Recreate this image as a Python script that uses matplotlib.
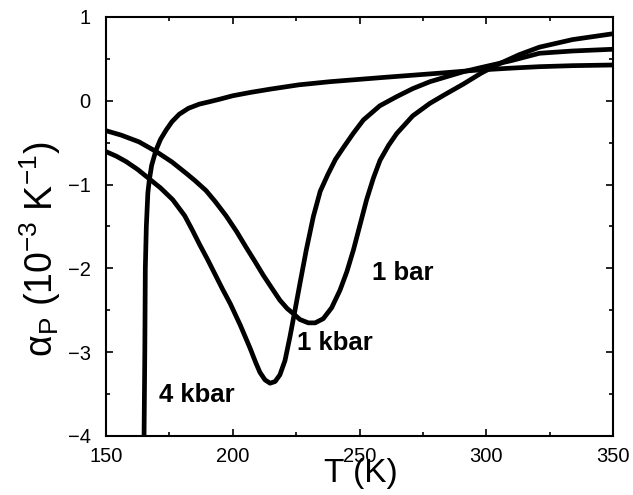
import numpy as np
import matplotlib
matplotlib.use("Agg")
import matplotlib.pyplot as plt
from matplotlib.ticker import MultipleLocator

plt.rcParams['font.family'] = ['Liberation Sans', 'DejaVu Sans']
plt.rcParams['mathtext.fontset'] = 'custom'
plt.rcParams['mathtext.rm'] = 'Liberation Sans'
plt.rcParams['mathtext.it'] = 'Liberation Sans:italic'

# values (T in K, alpha_P in 1e-3/K)
T_1bar = [150, 156, 163, 170, 176, 181.6, 185, 189.4, 193, 197.3, 201.5, 205.5,
          209, 212, 215.5, 218.6, 221.5, 223.9, 226.5, 229.8, 232.5, 235.7, 239,
          242.3, 245, 247.6, 250.2, 252.8, 255.5, 258.1, 261.5, 264.7, 271,
          277.8, 284, 291, 298, 305, 313, 321, 334, 350]
a_1bar = [-0.357, -0.41, -0.49, -0.61, -0.73, -0.865, -0.95, -1.07, -1.2, -1.37, -1.56, -1.76,
          -1.93, -2.08, -2.24, -2.38, -2.48, -2.54, -2.61, -2.65, -2.65, -2.6, -2.47,
          -2.26, -2.04, -1.78, -1.48, -1.18, -0.92, -0.71, -0.53, -0.39, -0.18,
          -0.03, 0.08, 0.2, 0.33, 0.44, 0.55, 0.64, 0.73, 0.80]

T_1kbar = [150, 154, 158, 162.5, 167, 171.5, 176.3, 181, 184, 187, 190, 193, 196,
           199, 203, 206.8, 209, 210.7, 212.7, 214.7, 216.7, 218.6, 220.6, 222.6,
           224.6, 226.5, 229, 231.8, 234.5, 237.5, 240.5, 243.6, 247.5, 251.5,
           258, 264.7, 271, 277.8, 291, 297, 310, 321, 334, 350]
a_1kbar = [-0.607, -0.66, -0.727, -0.82, -0.93, -1.04, -1.18, -1.37, -1.54, -1.72, -1.89, -2.07, -2.25,
           -2.42, -2.68, -2.95, -3.12, -3.24, -3.33, -3.37, -3.35, -3.27, -3.1, -2.81,
           -2.49, -2.18, -1.78, -1.38, -1.08, -0.88, -0.7, -0.56, -0.39, -0.23,
           -0.06, 0.05, 0.145, 0.228, 0.347, 0.39, 0.48, 0.567, 0.594, 0.615]

T_4kbar = [165.0, 165.3, 165.5, 165.9, 166.5, 167.1, 168, 169.7, 171.5, 173.7,
           176, 178.9, 182.5, 186.8, 191, 195, 200, 207, 215, 226, 238.4, 260,
           281.8, 296, 310, 321, 334, 350]
a_4kbar = [-4.0, -3.0, -2.0, -1.5, -1.1, -0.94, -0.77, -0.59, -0.46, -0.35,
           -0.25, -0.16, -0.09, -0.04, -0.01, 0.02, 0.06, 0.1, 0.14, 0.19, 0.228, 0.28,
           0.33, 0.365, 0.39, 0.407, 0.419, 0.427]

labels = ['1 bar', '1 kbar', '4 kbar']
label_pos = [(254.9, -2.05), (225.3, -2.89), (171, -3.51)]

fig = plt.figure(figsize=(6.33, 4.95), dpi=100)
ax = fig.add_axes([0.1675, 0.1192, 0.8009, 0.8465])

for T, a in [(T_1bar, a_1bar), (T_1kbar, a_1kbar), (T_4kbar, a_4kbar)]:
    ax.plot(T, a, color='black', lw=3.4, solid_joinstyle='round', solid_capstyle='butt')

for txt, (x, y) in zip(labels, label_pos):
    ax.text(x, y, txt, fontsize=18.5, fontweight='bold', ha='left', va='center')

ax.set_xlim(150, 350)
ax.set_ylim(-4, 1)
ax.xaxis.set_major_locator(MultipleLocator(50))
ax.xaxis.set_minor_locator(MultipleLocator(25))
ax.yaxis.set_major_locator(MultipleLocator(1))
ax.yaxis.set_minor_locator(MultipleLocator(0.5))
ax.tick_params(which='both', direction='in', top=True, right=True, width=1.2)
ax.tick_params(which='major', length=5, labelsize=14.5)
ax.tick_params(axis='x', which='major', pad=8)
ax.tick_params(axis='y', which='major', pad=11)
ax.tick_params(which='minor', length=3)
for s in ax.spines.values():
    s.set_linewidth(1.5)

ax.set_xlabel('T (K)', fontsize=24)
ax.xaxis.set_label_coords(0.503, -0.052)
ax.set_ylabel(r'α$_{\rm P}$ (10$^{-3}$ K$^{-1}$)', fontsize=27)
ax.yaxis.set_label_coords(-0.085, 0.446)

fig.savefig('out.png', dpi=100)
